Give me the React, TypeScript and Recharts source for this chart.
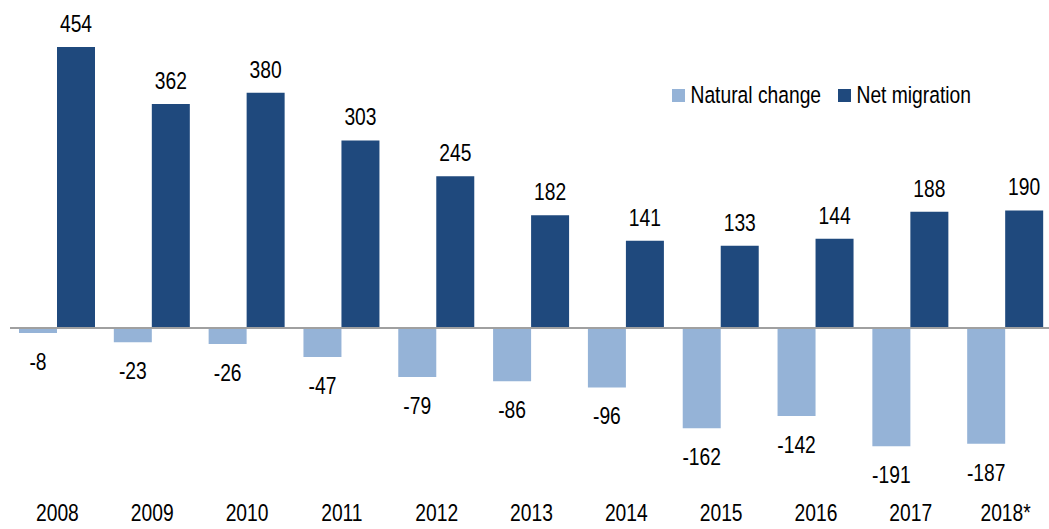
import React from 'react';
import { BarChart, Bar, XAxis, YAxis, ReferenceLine, Legend, LabelList } from 'recharts';

const years = ['2008', '2009', '2010', '2011', '2012', '2013', '2014', '2015', '2016', '2017', '2018*'];
const naturalChange = [-8, -23, -26, -47, -79, -86, -96, -162, -142, -191, -187];
const netMigration = [454, 362, 380, 303, 245, 182, 141, 133, 144, 188, 190];
const seriesNames = ['Natural change', 'Net migration'];
const seriesColors = ['#95B3D7', '#1F497D'];

const data = years.map((year, i) => ({
  year,
  natural: naturalChange[i],
  migration: netMigration[i],
}));

const FONT = '"Liberation Sans", Arial, sans-serif';
const FS = 23.5;
const SX = 0.82;

const renderLabel = (props: any) => {
  const { x, y, width, height, value } = props;
  const top = Math.min(y, y + height);
  const bottom = Math.max(y, y + height);
  const cx = x + width / 2;
  const ty = value < 0 ? bottom + 37 : top - 15;
  return (
    <text
      transform={`translate(${cx},${ty}) scale(${SX},1)`}
      x={0}
      y={0}
      textAnchor="middle"
      fill="#000"
      fontSize={FS}
      fontFamily={FONT}
    >
      {value}
    </text>
  );
};

const renderTick = (props: any) => {
  const { x, y, payload } = props;
  return (
    <text
      transform={`translate(${x},${y}) scale(${SX},1)`}
      x={0}
      y={0}
      dy="0.71em"
      textAnchor="middle"
      fill="#000"
      fontSize={FS}
      fontFamily={FONT}
    >
      {payload.value}
    </text>
  );
};

const legendOffsets = [0, 166];

const renderLegend = (props: any) => {
  const { payload } = props;
  return (
    <svg width={320} height={32} style={{ display: 'block', overflow: 'visible' }}>
      {(payload || []).map((p: any, i: number) => (
        <g key={i} transform={`translate(${legendOffsets[i] ?? i * 166},0)`}>
          <rect x={0} y={9} width={13} height={13} fill={p.color} />
          <text
            transform={`translate(18.5,23.4) scale(${SX},1)`}
            x={0}
            y={0}
            fill="#000"
            fontSize={FS}
            fontFamily={FONT}
          >
            {p.value}
          </text>
        </g>
      ))}
    </svg>
  );
};

export default function App() {
  return (
    <div style={{ position: 'absolute', left: 0, top: 0, width: 1049, height: 529, overflow: 'hidden', background: '#fff' }}>
      <BarChart
        width={1053}
        height={529}
        data={data}
        margin={{ top: 0, right: 0, left: 10, bottom: 0 }}
        barGap={0}
        barSize={38}
      >
        <XAxis
          dataKey="year"
          axisLine={false}
          tickLine={false}
          height={39}
          interval={0}
          tickMargin={8}
          tick={renderTick}
        />
        <YAxis hide domain={[-261.7, 529.9]} />
        <Legend
          layout="horizontal"
          verticalAlign="middle"
          align="center"
          content={renderLegend}
          wrapperStyle={{ position: 'absolute', left: 672, top: 80, width: 'auto' }}
        />
        <Bar dataKey="natural" name={seriesNames[0]} fill={seriesColors[0]} isAnimationActive={false}>
          <LabelList dataKey="natural" content={renderLabel} />
        </Bar>
        <Bar dataKey="migration" name={seriesNames[1]} fill={seriesColors[1]} isAnimationActive={false}>
          <LabelList dataKey="migration" content={renderLabel} />
        </Bar>
        <ReferenceLine y={0} stroke="#A0A0A0" strokeWidth={2} />
      </BarChart>
    </div>
  );
}
